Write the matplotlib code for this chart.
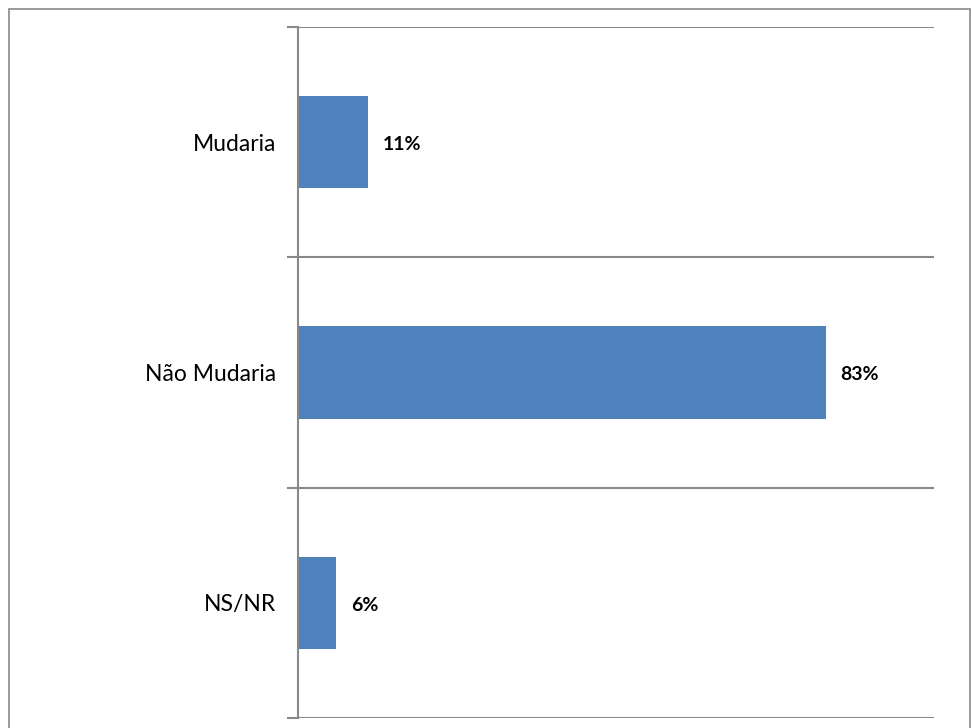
import matplotlib
matplotlib.use("Agg")
import matplotlib.pyplot as plt
from matplotlib.patches import Rectangle
import numpy as np

# data
categories = ["Mudaria", "Não Mudaria", "NS/NR"]
values = [0.11, 0.83, 0.06]
value_labels = ["11%", "83%", "6%"]

BAR_COLOR = "#4F81BD"
GRID_COLOR = "#898989"

plt.rcParams["font.family"] = ["Lato", "DejaVu Sans"]

fig = plt.figure(figsize=(9.71, 7.28), dpi=100)
ax = fig.add_axes([298 / 971, 10 / 728, 636 / 971, 691 / 728])

y = np.arange(len(categories))
ax.barh(y, values, height=0.4, color=BAR_COLOR)

for yi, v, lab in zip(y, values, value_labels):
    ax.text(v + 0.023, yi + 0.01, lab, va="center", ha="left",
            fontsize=14, fontweight="bold", color="#000000")

ax.set_xlim(0, 1)
ax.set_ylim(len(categories) - 0.5, -0.5)
ax.set_xticks([])
ax.set_yticks(y)
ax.set_yticklabels(categories, fontsize=16.5)
ax.tick_params(axis="y", which="major", length=0, pad=16)

# boundary lines between categories
ax.set_yticks(np.arange(-0.5, len(categories)), minor=True)
ax.tick_params(axis="y", which="minor", length=8, width=1.5, color=GRID_COLOR)
ax.grid(axis="y", which="minor", color=GRID_COLOR, linewidth=1.5)
ax.set_axisbelow(True)

for s in ["top", "right", "bottom"]:
    ax.spines[s].set_visible(False)
ax.spines["left"].set_color(GRID_COLOR)
ax.spines["left"].set_linewidth(1.5)

# outer frame
fig.patches.append(Rectangle((9 / 971, -0.01), 961 / 971, 1 - 9 / 728 + 0.01,
                             transform=fig.transFigure, fill=False,
                             edgecolor=GRID_COLOR, linewidth=1.2))

fig.savefig("out.png", dpi=100)
